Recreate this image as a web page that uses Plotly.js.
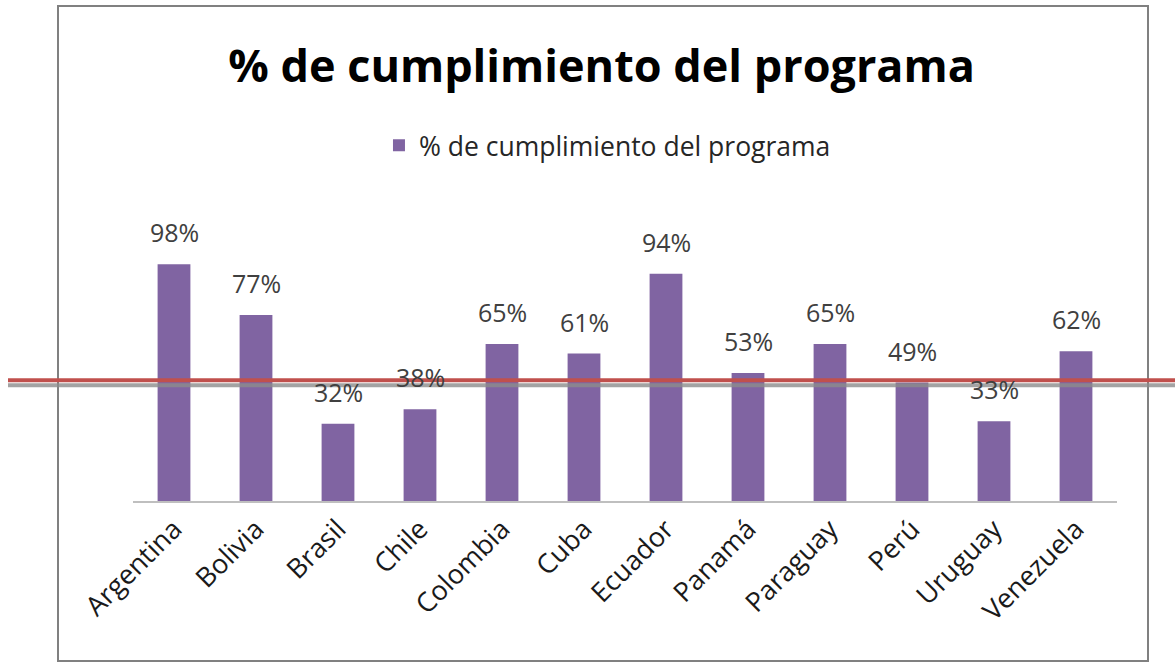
<!DOCTYPE html>
<html>
<head>
<meta charset="utf-8">
<script src="https://cdn.plot.ly/plotly-3.0.1.min.js"></script>
<style>
html,body{margin:0;padding:0;background:#fff;}
#chart{width:1175px;height:662px;}
</style>
</head>
<body>
<div id="chart"></div>
<script>
// Data
var categories = ["Argentina","Bolivia","Brasil","Chile","Colombia","Cuba","Ecuador","Panamá","Paraguay","Perú","Uruguay","Venezuela"];
var values = [0.98,0.77,0.32,0.38,0.65,0.61,0.94,0.53,0.65,0.49,0.33,0.62];
var seriesName = "% de cumplimiento del programa";
var chartTitle = "% de cumplimiento del programa";
var thresholdValue = 0.5;

var labels = values.map(function(v){return Math.round(v*100)+"%";});

var trace = {
  type: "bar",
  x: categories,
  y: values,
  name: seriesName,
  marker: {color: "#8064A2"},
  showlegend: true
};

var annotations = categories.map(function(c, i){
  return {
    x: c, y: values[i], xref: "x", yref: "y",
    text: labels[i], showarrow: false,
    yanchor: "bottom", yshift: 13,
    font: {family: "Open Sans", size: 25, color: "#404040"}
  };
});

var layout = {
  width: 1175,
  height: 662,
  paper_bgcolor: "#ffffff",
  plot_bgcolor: "#ffffff",
  margin: {l: 133, r: 58, t: 211, b: 161},
  bargap: 0.6,
  title: {
    text: "<b>" + chartTitle + "</b>",
    font: {family: "Open Sans", size: 45, color: "#000000"},
    x: 0.512, xref: "container", xanchor: "center",
    y: 0.90, yref: "container", yanchor: "middle"
  },
  showlegend: true,
  legend: {
    orientation: "h",
    x: 0.517, xref: "container", xanchor: "center",
    y: 0.78, yref: "container", yanchor: "middle",
    font: {family: "Open Sans", size: 26.5, color: "#262626"},
    itemwidth: 30
  },
  annotations: annotations,
  xaxis: {
    type: "category",
    showline: true,
    linecolor: "#BFBFBF",
    linewidth: 1.5,
    showgrid: false,
    ticks: "",
    tickangle: -45,
    tickfont: {family: "Open Sans", size: 27, color: "#1a1a1a"},
    fixedrange: true
  },
  yaxis: {
    range: [0, 1.2],
    visible: false,
    showgrid: false,
    zeroline: false,
    fixedrange: true
  },
  shapes: [
    {
      type: "rect", xref: "paper", yref: "paper",
      x0: (58-133)/984, x1: (1148-133)/984,
      y0: (501-661)/290, y1: (501-6)/290,
      line: {color: "#808080", width: 2},
      fillcolor: "rgba(0,0,0,0)",
      layer: "below"
    },
    {
      type: "rect", xref: "paper", yref: "y",
      ysizemode: "pixel", yanchor: thresholdValue,
      x0: (8-133)/984, x1: 1.1,
      y0: -3, y1: -7,
      line: {width: 0},
      fillcolor: "rgba(140,140,140,0.8)",
      layer: "above"
    },
    {
      type: "rect", xref: "paper", yref: "y",
      ysizemode: "pixel", yanchor: thresholdValue,
      x0: (8-133)/984, x1: 1.1,
      y0: -2, y1: 2,
      line: {width: 0},
      fillcolor: "#C0504D",
      layer: "above"
    }
  ]
};

Plotly.newPlot("chart", [trace], layout, {displayModeBar: false, staticPlot: true});
</script>
</body>
</html>
